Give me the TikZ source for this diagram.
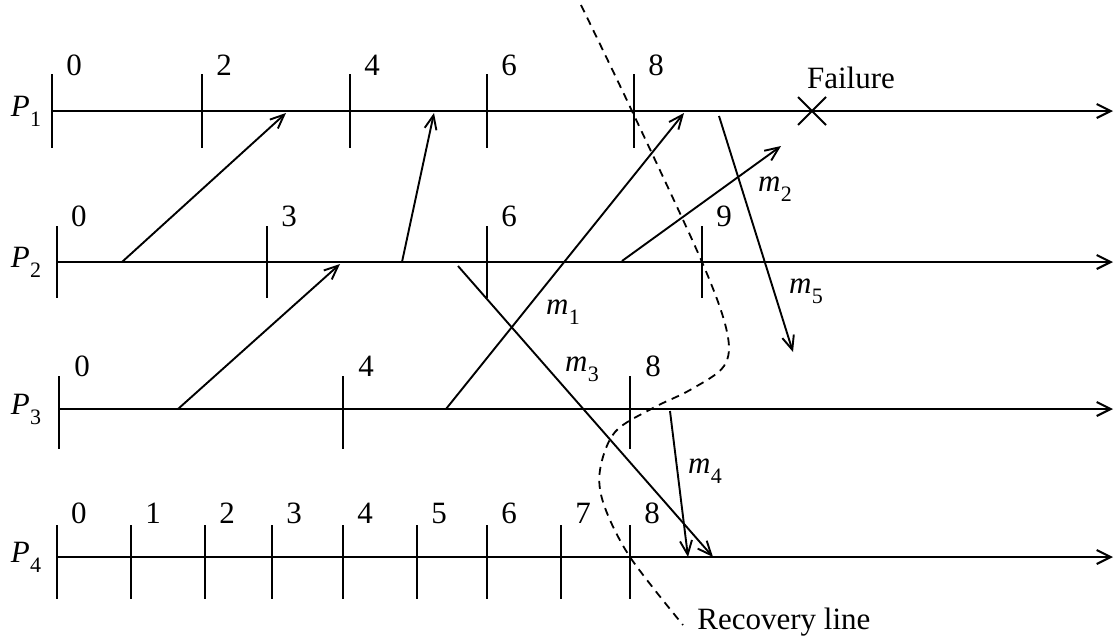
\documentclass[tikz,border=0pt]{standalone}
\usepackage{fontspec}
\setmainfont{Liberation Serif}
\usetikzlibrary{arrows.meta}
\newcommand\msub[2]{\textit{#1}\kern0.2pt\raisebox{-0.32em}{\fontsize{11}{12}\selectfont #2}}
\begin{document}
\begin{tikzpicture}[x=0.5pt,y=-0.5pt,
  proc/.style={line width=1.05pt,-{Straight Barb[length=7pt,width=7pt]}},
  tickmark/.style={line width=1.05pt},
  msg/.style={line width=0.95pt,-{Straight Barb[length=7pt,width=6pt]}},
  num/.style={font=\fontsize{15.5}{18}\selectfont, inner sep=0pt},
  rec/.style={dash pattern=on 4pt off 3pt, line width=0.9pt},
  lab/.style={font=\fontsize{15.5}{18}\selectfont, inner sep=0pt}]
\useasboundingbox (0,0) rectangle (1115,638);

% process lines
\coordinate (p1s) at (52,111);  \coordinate (p1e) at (1113,111);
\coordinate (p2s) at (57,262);  \coordinate (p2e) at (1113,262);
\coordinate (p3s) at (59,409);  \coordinate (p3e) at (1113,409);
\coordinate (p4s) at (57,557);  \coordinate (p4e) at (1113,557);
\draw[proc] (p1s) -- (p1e);
\draw[proc] (p2s) -- (p2e);
\draw[proc] (p3s) -- (p3e);
\draw[proc] (p4s) -- (p4e);

\node[lab] (P1) at (26,111) {\msub{P}{1}};
\node[lab] (P2) at (26,262) {\msub{P}{2}};
\node[lab] (P3) at (26,409) {\msub{P}{3}};
\node[lab] (P4) at (26,557) {\msub{P}{4}};

% checkpoints
\foreach \x/\t in {52/0,202/2,350/4,487/6,634/8}{
  \draw[tickmark] (\x,74) -- (\x,148);
  \node[num] (c1-\t) at (\x+22,65) {\t};}
\foreach \x/\t in {57/0,267/3,487/6,702/9}{
  \draw[tickmark] (\x,226) -- (\x,298);
  \node[num] (c2-\t) at (\x+22,216) {\t};}
\foreach \x/\t in {59/0,343/4,630/8}{
  \draw[tickmark] (\x,376) -- (\x,449);
  \node[num] (c3-\t) at (\x+23,366) {\t};}
\foreach \x/\t in {57/0,131/1,205/2,272/3,343/4,417/5,487/6,561/7,630/8}{
  \draw[tickmark] (\x,525) -- (\x,599);
  \node[num] (c4-\t) at (\x+22,513) {\t};}

% messages
\coordinate (a1) at (122,262); \coordinate (b1) at (286,113);
\coordinate (a2) at (178,409); \coordinate (b2) at (340,264);
\coordinate (a3) at (402,262); \coordinate (b3) at (434,113);
\coordinate (a4) at (458,266); \coordinate (b4) at (713,557);
\coordinate (a5) at (446,409); \coordinate (b5) at (684,113);
\coordinate (a6) at (622,261); \coordinate (b6) at (781,146);
\coordinate (a7) at (719,116); \coordinate (b7) at (793,352);
\coordinate (a8) at (670,411); \coordinate (b8) at (688,557);
\draw[msg] (a1) -- (b1);
\draw[msg] (a2) -- (b2);
\draw[msg] (a3) -- (b3);
\draw[msg] (a4) -- (b4);
\draw[msg] (a5) -- (b5);
\draw[msg] (a6) -- (b6);
\draw[msg] (a7) -- (b7);
\draw[msg] (a8) -- (b8);

\node[lab] (m1) at (563,312) {\msub{m}{1}};
\node[lab] (m2) at (775,189) {\msub{m}{2}};
\node[lab] (m3) at (582,369) {\msub{m}{3}};
\node[lab] (m4) at (705,471) {\msub{m}{4}};
\node[lab] (m5) at (806,291) {\msub{m}{5}};

% failure
\coordinate (fx) at (812,111);
\draw[tickmark] (798,97) -- (826,125) (798,125) -- (826,97);
\node[lab] (fail) at (851,78) {Failure};

% recovery line
\draw[rec] plot[smooth, tension=0.55] coordinates {(581,5) (632,111) (702,262) (727,332) (724,366) (690,390) (653,408) (615,432) (600,470) (604,505) (630,557) (683,625)};
\node[lab, anchor=west] (recl) at (697,622) {Recovery line};
\end{tikzpicture}
\end{document}
